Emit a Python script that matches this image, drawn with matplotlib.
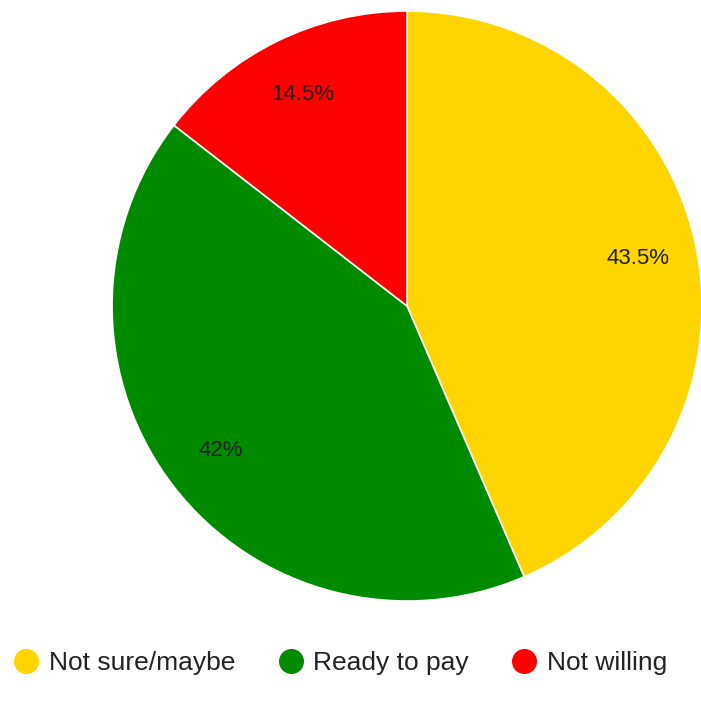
import matplotlib.pyplot as plt
from matplotlib.lines import Line2D

labels = ['Not sure/maybe', 'Ready to pay', 'Not willing']
shares = [43.5, 42.0, 14.5]
colors = ['#FFD500', '#008A00', '#FF0000']

plt.rcParams['font.family'] = ['Liberation Sans', 'DejaVu Sans']

fig = plt.figure(figsize=(7.01, 7.08), dpi=100)
ax = fig.add_axes([0.1598, 0.1511, 0.8417, 0.8333])


def fmt(p):
    s = f'{p:.1f}'
    if s.endswith('.0'):
        s = s[:-2]
    return s + '%'


wedges, texts, autotexts = ax.pie(
    shares, colors=colors, startangle=90, counterclock=False,
    autopct=fmt, pctdistance=0.8, radius=1,
    wedgeprops=dict(edgecolor='white', linewidth=1.2),
    textprops=dict(fontsize=16, color='#222222'))
ax.set_xlim(-1, 1)
ax.set_ylim(-1, 1)
ax.set_aspect('equal')

handles = [Line2D([], [], marker='o', linestyle='none', markersize=17,
                  markerfacecolor=c, markeredgecolor=c) for c in colors]
fig.legend(handles, labels, loc='center', bbox_to_anchor=(0.485, 0.063),
           ncol=3, frameon=False, fontsize=19, handlelength=1.0,
           handletextpad=0.35, columnspacing=1.6, borderpad=0,
           labelcolor='#222222')

fig.savefig('out.png', dpi=100, facecolor='white')
